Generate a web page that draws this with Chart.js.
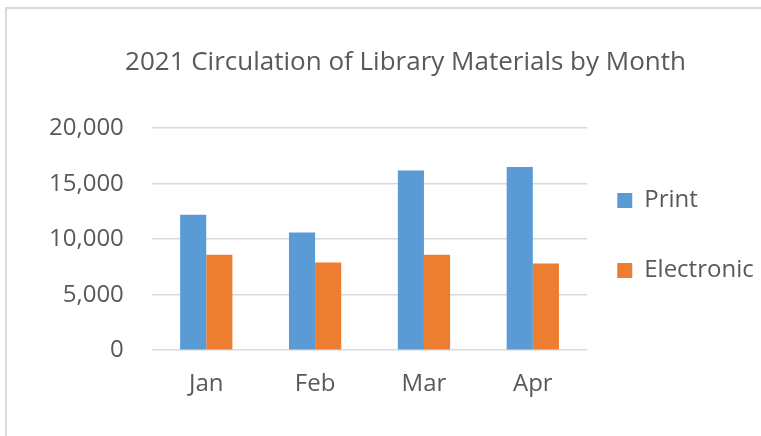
<!DOCTYPE html>
<html>
<head>
<meta charset="utf-8">
<script src="https://cdn.jsdelivr.net/npm/chart.js@4/dist/chart.umd.min.js"></script>
<style>
  html, body { margin: 0; padding: 0; background: #fff; }
  #wrap { position: relative; width: 761px; height: 436px; overflow: hidden; }
  #frame { position: absolute; left: 5px; top: 7px; width: 800px; height: 500px;
           border-left: 2px solid #d9d9d9; border-top: 2px solid #d9d9d9; }
  canvas { position: absolute; left: 0; top: 0; }
</style>
</head>
<body>
<div id="wrap">
  <div id="frame"></div>
  <canvas id="myChart" width="761" height="436"></canvas>
</div>
<script>
const months = ["Jan", "Feb", "Mar", "Apr"];
const printValues = [12200, 10600, 16200, 16500];
const electronicValues = [8600, 7900, 8600, 7800];
const yTicks = [0, 5000, 10000, 15000, 20000];

const textColor = "#595959";
const fontFamily = "'Open Sans', sans-serif";

// nudge title and legend to where Excel puts them
const boxShift = {
  id: "boxShift",
  afterLayout(chart) {
    const lg = chart.legend;
    lg.left -= 16;
    lg.right -= 16;
    lg.top += 26;
    lg.bottom += 26;
    const tb = chart.titleBlock;
    tb.left += 7;
    tb.right += 7;
  },
};

const ctx = document.getElementById("myChart").getContext("2d");
new Chart(ctx, {
  type: "bar",
  data: {
    labels: months,
    datasets: [
      {
        label: "Print",
        data: printValues,
        backgroundColor: "#5B9BD5",
      },
      {
        label: "Electronic",
        data: electronicValues,
        backgroundColor: "#ED7D31",
      },
    ],
  },
  options: {
    responsive: false,
    animation: false,
    devicePixelRatio: 1,
    layout: { padding: { left: 21, right: -15, top: 8, bottom: 25 } },
    datasets: {
      bar: { barPercentage: 1, categoryPercentage: 0.48 },
    },
    plugins: {
      title: {
        display: true,
        text: "2021 Circulation of Library Materials by Month",
        color: textColor,
        font: { family: fontFamily, size: 26, weight: "normal" },
        padding: { top: 39, bottom: 50 },
      },
      legend: {
        position: "right",
        labels: {
          color: textColor,
          font: { family: fontFamily, size: 24 },
          boxWidth: 15,
          boxHeight: 15,
          padding: 46,
        },
      },
      tooltip: { enabled: false },
    },
    scales: {
      x: {
        grid: { display: false },
        border: { display: false },
        ticks: {
          color: textColor,
          font: { family: fontFamily, size: 24 },
          padding: 12,
        },
      },
      y: {
        min: 0,
        max: 20000,
        afterBuildTicks: (axis) => {
          axis.ticks = yTicks.map((v) => ({ value: v }));
        },
        grid: { color: "#d9d9d9", lineWidth: 1.5, drawTicks: false },
        border: { display: false },
        ticks: {
          color: textColor,
          font: { family: fontFamily, size: 24 },
          padding: 28,
          callback: (v) => v.toLocaleString("en-US"),
        },
      },
    },
  },
  plugins: [boxShift],
});
</script>
</body>
</html>
